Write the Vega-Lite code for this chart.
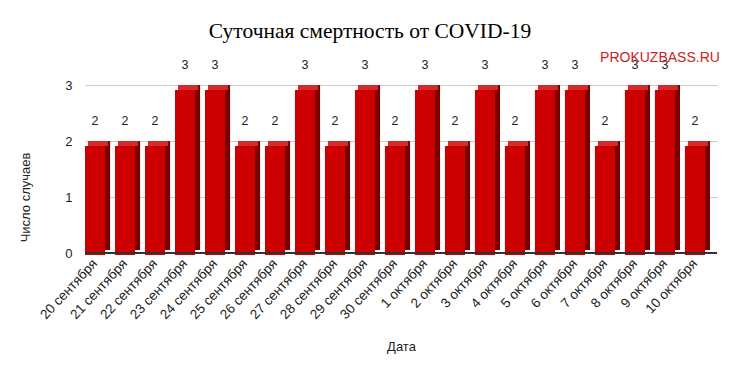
{
  "$schema": "https://vega.github.io/schema/vega-lite/v6.json",
  "width": 632,
  "height": 168,
  "autosize": "none",
  "padding": {"left": 85, "top": 85, "right": 20, "bottom": 118},
  "background": "white",
  "title": {
    "text": "Суточная смертность от COVID-19",
    "font": "Liberation Serif",
    "fontSize": 21.5,
    "fontWeight": "normal",
    "color": "#000",
    "anchor": "middle",
    "frame": "group",
    "dx": -31,
    "offset": 9
  },
  "data": {
    "values": [
      {"date": "20 сентября", "value": 2},
      {"date": "21 сентября", "value": 2},
      {"date": "22 сентября", "value": 2},
      {"date": "23 сентября", "value": 3},
      {"date": "24 сентября", "value": 3},
      {"date": "25 сентября", "value": 2},
      {"date": "26 сентября", "value": 2},
      {"date": "27 сентября", "value": 3},
      {"date": "28 сентября", "value": 2},
      {"date": "29 сентября", "value": 3},
      {"date": "30 сентября", "value": 2},
      {"date": "1 октября", "value": 3},
      {"date": "2 октября", "value": 2},
      {"date": "3 октября", "value": 3},
      {"date": "4 октября", "value": 2},
      {"date": "5 октября", "value": 3},
      {"date": "6 октября", "value": 3},
      {"date": "7 октября", "value": 2},
      {"date": "8 октября", "value": 3},
      {"date": "9 октября", "value": 3},
      {"date": "10 октября", "value": 2}
    ]
  },
  "encoding": {
    "x": {
      "field": "date",
      "type": "nominal",
      "sort": null,
      "scale": {"paddingInner": 0.33, "paddingOuter": 0.2, "align": 0},
      "axis": {
        "title": "Дата",
        "titleFont": "Liberation Sans",
        "titleFontSize": 13,
        "titleFontWeight": "normal",
        "titleColor": "#222",
        "titleY": 87,
        "labelAngle": -47,
        "labelAlign": "right",
        "labelBaseline": "middle",
        "labelFont": "Liberation Sans",
        "labelFontSize": 13.5,
        "labelColor": "#222",
        "labelPadding": 8,
        "ticks": false,
        "domain": false,
        "grid": false
      }
    }
  },
  "layer": [
    {
      "mark": {"type": "bar", "color": "#7a0000", "xOffset": 5, "yOffset": 0, "y2Offset": -3},
      "encoding": {
        "y": {
          "field": "value",
          "type": "quantitative",
          "scale": {"domain": [0, 3], "nice": false},
          "axis": {
            "title": "Число случаев",
            "titleFont": "Liberation Sans",
            "titleFontSize": 13,
            "titleFontWeight": "normal",
            "titleColor": "#222",
            "titleX": -53,
            "titleY": 112,
            "values": [0, 1, 2, 3],
            "format": "d",
            "labelFont": "Liberation Sans",
            "labelFontSize": 13,
            "labelColor": "#222",
            "labelPadding": 13,
            "ticks": false,
            "domain": false,
            "gridColor": "#cccccc",
            "gridWidth": 1
          }
        },
        "y2": {"datum": 0}
      }
    },
    {
      "mark": {"type": "bar", "color": "#d42a2a", "xOffset": 3, "yOffset": 0, "y2Offset": 5},
      "encoding": {
        "y": {"field": "value", "type": "quantitative"},
        "y2": {"field": "value"}
      }
    },
    {
      "mark": {"type": "bar", "color": "#cc0000", "yOffset": 5, "y2Offset": 2},
      "encoding": {
        "y": {"field": "value", "type": "quantitative"},
        "y2": {"datum": 0}
      }
    },
    {
      "mark": {"type": "rule", "color": "#333333", "strokeWidth": 1},
      "encoding": {"y": {"datum": 0}, "x": null}
    },
    {
      "mark": {"type": "text", "font": "Liberation Sans", "fontSize": 12.5, "color": "#222", "dy": -20, "baseline": "middle"},
      "encoding": {
        "y": {"field": "value", "type": "quantitative"},
        "text": {"field": "value", "type": "quantitative"}
      }
    },
    {
      "data": {"values": [{"label": "PROKUZBASS.RU", "date": "9 октября", "pos": 3.48}]},
      "mark": {"type": "text", "font": "Liberation Sans", "fontSize": 14, "color": "#cc2222", "dx": -5, "baseline": "middle", "align": "center"},
      "encoding": {
        "x": {"field": "date", "type": "nominal", "sort": null},
        "y": {"field": "pos", "type": "quantitative"},
        "text": {"field": "label"}
      }
    }
  ],
  "config": {"view": {"stroke": null}}
}
